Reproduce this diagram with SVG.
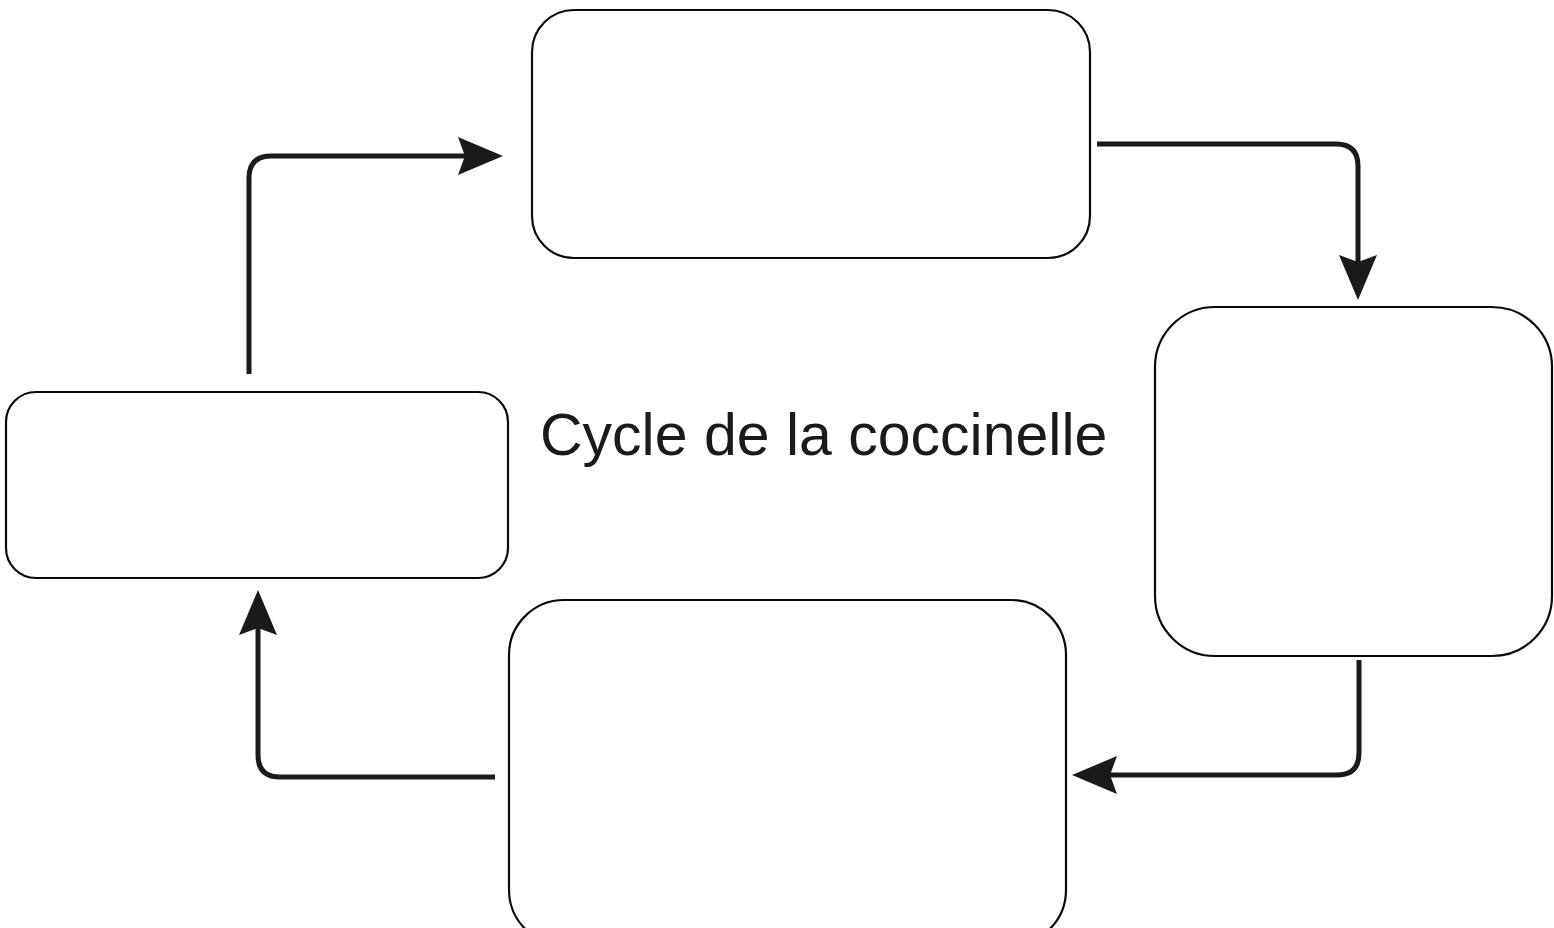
<svg xmlns="http://www.w3.org/2000/svg" width="1554" height="928" viewBox="0 0 1554 928">
  <style>
    .box { fill: #ffffff; stroke: #0a0a0a; stroke-width: 2.2; }
    .conn { fill: none; stroke: #1a1a1a; stroke-width: 5; stroke-linecap: butt; }
    .title { font-family: "Liberation Sans", Arial, sans-serif; font-size: 59px; fill: #1a1a1a; }
  </style>
  <defs>
    <marker id="arrow" markerUnits="userSpaceOnUse" markerWidth="50" markerHeight="40" refX="35" refY="19" orient="auto">
      <path d="M0,0 L45,19 L0,38 L7,19 Z" fill="#1a1a1a"/>
    </marker>
  </defs>
  <rect width="1554" height="928" fill="#ffffff"/>
  <g id="node-top">
    <rect class="box" x="532" y="10" width="558" height="248" rx="42" ry="42"/>
  </g>
  <g id="node-right">
    <rect class="box" x="1155" y="307" width="397" height="349" rx="60" ry="60"/>
  </g>
  <g id="node-left">
    <rect class="box" x="6" y="392" width="502" height="186" rx="30" ry="30"/>
  </g>
  <g id="node-bottom">
    <rect class="box" x="509" y="600" width="557" height="345" rx="55" ry="55"/>
  </g>
  <g id="title">
    <text class="title" x="540" y="455">Cycle de la coccinelle</text>
  </g>
  <g id="connectors">
    <path class="conn" d="M249,374 V178 Q249,156 271,156 H493" marker-end="url(#arrow)"/>
    <path class="conn" d="M1097,144 H1336 Q1358,144 1358,166 V290" marker-end="url(#arrow)"/>
    <path class="conn" d="M1359,660 V753 Q1359,775 1337,775 H1082" marker-end="url(#arrow)"/>
    <path class="conn" d="M495,777 H280 Q258,777 258,755 V600" marker-end="url(#arrow)"/>
  </g>
</svg>
